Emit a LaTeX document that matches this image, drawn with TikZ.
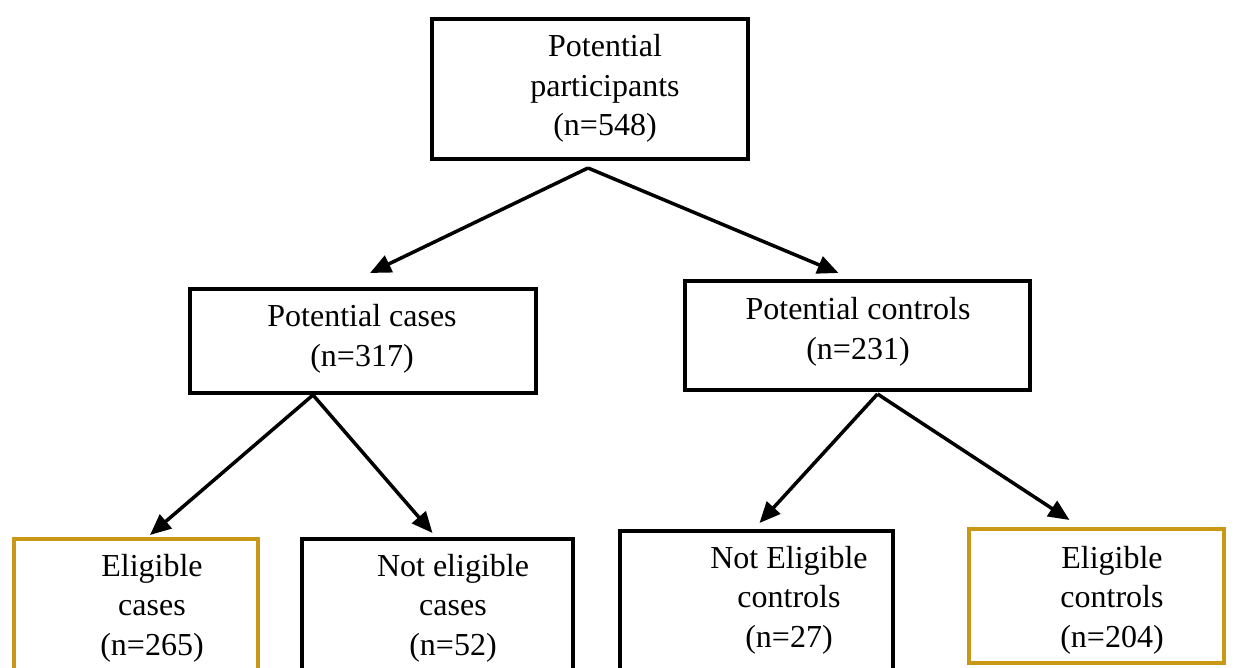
\documentclass[tikz,border=0pt]{standalone}
\usepackage{fontspec}
\setmainfont{Liberation Serif}
\usetikzlibrary{arrows.meta}
\definecolor{gold}{RGB}{201,152,22}
\tikzset{
  box/.style={draw=black, line width=4pt, rectangle, inner sep=0pt},
  goldbox/.style={box, draw=gold},
  txt/.style={align=center, inner sep=0pt, font=\fontsize{32}{39.5}\selectfont},
  arr/.style={line width=3.5pt, -{Triangle[length=21pt,width=18pt]}}
}
\begin{document}
\begin{tikzpicture}[x=1pt,y=-1pt]
\useasboundingbox (0,0) rectangle (1235,668);
% boxes
\node[box, minimum width=316pt, minimum height=140pt] (top) at (590,89) {};
\node[box, minimum width=346pt, minimum height=104pt] (cases) at (363,341) {};
\node[box, minimum width=345pt, minimum height=109pt] (controls) at (857.5,335.5) {};
\node[goldbox, minimum width=244pt, minimum height=160pt] (ecases) at (136,619) {};
\node[box, minimum width=271pt, minimum height=160pt] (necases) at (437.5,619) {};
\node[box, minimum width=273pt, minimum height=160pt] (necontrols) at (756.5,611) {};
\node[goldbox, minimum width=255pt, minimum height=134pt] (econtrols) at (1096.5,596) {};
% texts
\node[txt] (ttop) at (605,88.5) {Potential\\participants\\(n=548)};
\node[txt] (tcases) at (362,339) {Potential cases\\(n=317)};
\node[txt] (tcontrols) at (858,332) {Potential controls\\(n=231)};
\node[txt] (tecases) at (152,608) {Eligible\\cases\\(n=265)};
\node[txt] (tnecases) at (453,608) {Not eligible\\cases\\(n=52)};
\node[txt] (tnecontrols) at (789,600) {Not Eligible\\controls\\(n=27)};
\node[txt] (tecontrols) at (1112,600) {Eligible\\controls\\(n=204)};
% connector ends
\coordinate (s1) at ([xshift=-2pt,yshift=-7pt]top.south);
\coordinate (e1) at ([xshift=7pt,yshift=14pt]cases.north);
\coordinate (e2) at ([xshift=-19pt,yshift=6pt]controls.north);
\coordinate (s2) at ([xshift=-50pt]cases.south);
\coordinate (e3) at ([xshift=14pt,yshift=2pt]ecases.north);
\coordinate (e4) at ([xshift=-5pt,yshift=4pt]necases.north);
\coordinate (s3) at ([xshift=20pt,yshift=-2pt]controls.south);
\coordinate (e5) at ([xshift=3pt,yshift=6pt]necontrols.north);
\coordinate (e6) at ([xshift=-27pt,yshift=7pt]econtrols.north);
% arrows
\draw[arr] (s1) -- (e1);
\draw[arr] (s1) -- (e2);
\draw[arr] (s2) -- (e3);
\draw[arr] (s2) -- (e4);
\draw[arr] (s3) -- (e5);
\draw[arr] (s3) -- (e6);
\end{tikzpicture}
\end{document}
